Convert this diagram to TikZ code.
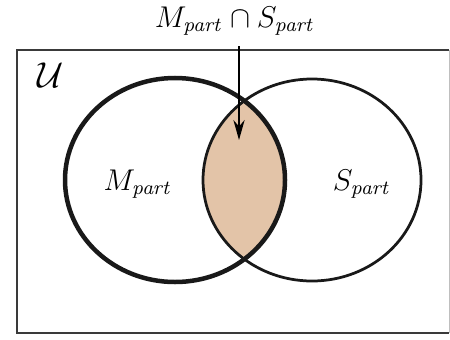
\documentclass[tikz,border=0pt]{standalone}
\usepackage{amsmath}
\usepackage{amssymb}
\usepackage{tikz}
\usepackage{xcolor}
\usetikzlibrary{arrows.meta,positioning}
\definecolor{lensfill}{HTML}{E3C4A8}
\definecolor{framegray}{HTML}{3A3A3A}
\newcommand{\partset}[1]{\ensuremath{#1_{\mathit{part}}}}

\begin{document}
\begin{tikzpicture}[
  x=0.4pt, y=-0.4pt,
  frame/.style={draw=framegray, line width=0.8pt},
  setM/.style={draw=black!90, line width=1.8pt},
  setS/.style={draw=black!90, line width=1.1pt},
  lbl/.style={font=\fontsize{12}{14}\selectfont, inner sep=1pt},
  >=Stealth
]
  \useasboundingbox (0,0) rectangle (450,339);

  % universe
  \draw[frame] (449,50) -- (17,50) -- (17,333) -- (449,333);
  \draw[draw=black!25, line width=0.4pt] (449,50) -- (449,333);
  \node[lbl, font=\fontsize{15}{17}\selectfont] (univ) at (51,75) {$\mathcal{U}$};

  % intersection
  \begin{scope}
    \clip (175,180) ellipse [x radius=110, y radius=102];
    \fill[lensfill] (312,180) ellipse [x radius=109, y radius=101];
  \end{scope}

  % sets
  \draw[setS] (312,180) ellipse [x radius=109, y radius=101];
  \draw[setM] (175,180) ellipse [x radius=110, y radius=102];

  \node[lbl] (mpart) at (138,184) {$\partset{M}$};
  \node[lbl] (spart) at (362,184) {$\partset{S}$};

  % pointer
  \node[lbl] (meet) at (235,21) {$\partset{M}\cap\partset{S}$};
  \coordinate (tip) at (239,140);
  \draw[->, line width=0.6pt, >={Stealth[length=8pt, width=4.5pt]}] (meet.south -| tip) ++(0,8) -- (tip);
\end{tikzpicture}
\end{document}
